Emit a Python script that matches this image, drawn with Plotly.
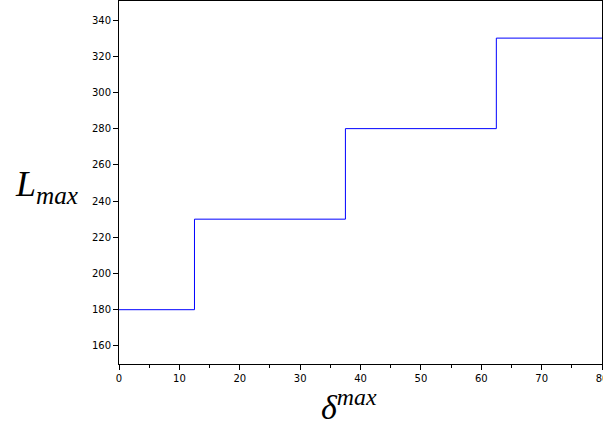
import plotly.graph_objects as go

# niveaux de L_max en fonction de delta^max (fonction en escalier)
delta = [0, 12.5, 37.5, 62.5, 80]
l_max = [180, 230, 280, 330, 330]

y_ticks = list(range(160, 341, 20))
x_ticks = list(range(0, 81, 10))

fig = go.Figure(
    go.Scatter(
        x=delta,
        y=l_max,
        mode="lines",
        line=dict(color="#0000ff", width=1, shape="hv"),
        showlegend=False,
    )
)

fig.update_xaxes(
    range=[0, 80],
    tickvals=x_ticks,
    ticks="outside",
    ticklen=5,
    tickcolor="black",
    minor=dict(dtick=5, ticks="outside", ticklen=3, tickcolor="black"),
    showline=True,
    linecolor="black",
    linewidth=1,
    mirror=True,
    showgrid=False,
    zeroline=False,
    automargin=False,
    ticklabeloverflow="allow",
    tickfont=dict(family="DejaVu Sans", size=10, color="black"),
)
fig.update_yaxes(
    range=[150, 350.5],
    tickvals=y_ticks,
    ticks="outside",
    ticklen=5,
    tickcolor="black",
    showline=True,
    linecolor="black",
    linewidth=1,
    mirror=True,
    showgrid=False,
    zeroline=False,
    automargin=False,
    tickfont=dict(family="DejaVu Sans", size=10, color="black"),
)

fig.add_annotation(
    text="<i>L</i><sub><i>max</i></sub>",
    xref="paper", yref="paper", x=-0.151, y=0.49,
    xanchor="center", yanchor="middle",
    showarrow=False,
    font=dict(family="Liberation Serif", size=36, color="black"),
)
fig.add_annotation(
    text="<i>δ</i><sup><i>max</i></sup>",
    xref="paper", yref="paper", x=0.476, y=-0.113,
    xanchor="center", yanchor="middle",
    showarrow=False,
    font=dict(family="Liberation Serif", size=34, color="black"),
)

fig.update_layout(
    width=603,
    height=425,
    margin=dict(l=119, r=1, t=1, b=61),
    plot_bgcolor="white",
    paper_bgcolor="white",
)

# la page HTML ajoute 8px de marge au body : on l'enlève
fig.write_html(
    "out.html",
    config={"displayModeBar": False},
    post_script="document.body.style.margin='0';document.body.style.overflow='hidden';",
)
